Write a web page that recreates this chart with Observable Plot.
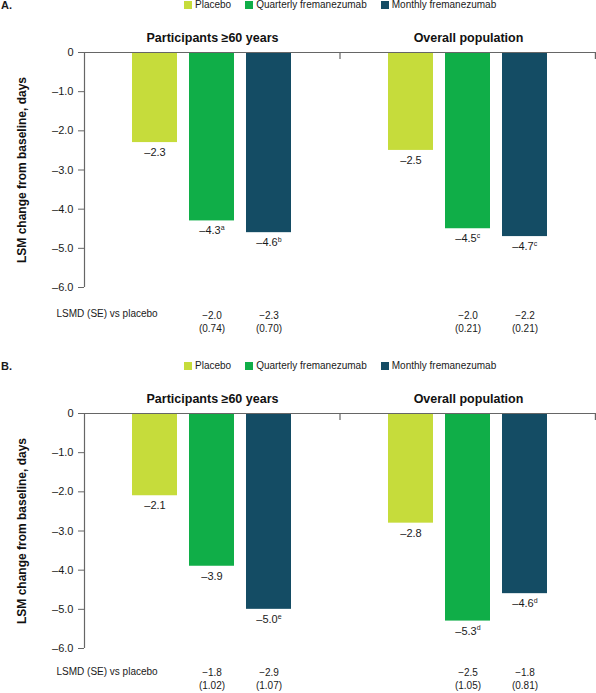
<!DOCTYPE html>
<html>
<head>
<meta charset="utf-8">
<script src="https://cdn.jsdelivr.net/npm/d3@7"></script>
<script src="https://cdn.jsdelivr.net/npm/@observablehq/plot@0.6"></script>
<style>
  html, body { margin: 0; padding: 0; background: #fff; }
  body { width: 596px; font-family: "Liberation Sans", Arial, Helvetica, sans-serif; color: #1a1a1a; }
  .hdr { position: relative; height: 10px; line-height: 10px; font-size: 10px; }
  .hdr .lab { position: absolute; left: 1px; top: 0; font-weight: bold; font-size: 11px; }
  .hdr .legend { position: absolute; left: 184px; top: 0; display: flex; white-space: nowrap; }
  .hdr .item { display: flex; align-items: center; margin-right: 14px; }
  .hdr .sw { display: inline-block; width: 8px; height: 8px; margin-right: 3px; }
  svg { display: block; }
</style>
</head>
<body>
<div id="panelA"></div>
<div id="panelB"></div>
<script>
const FONT = '"Liberation Sans", Arial, Helvetica, sans-serif';
const treatments = ["Placebo", "Quarterly fremanezumab", "Monthly fremanezumab"];
const colors = ["#c6dc3b", "#10ae48", "#144c64"];
const groups = ["Participants \u226560 years", "Overall population"];
const yTicks = [0, -1, -2, -3, -4, -5, -6];
const yLabel = "LSM change from baseline, days";
const lsmdLabel = "LSMD (SE) vs placebo";

// Panel A
const aValues60 = [-2.3, -4.3, -4.6];
const aSups60 = ["", "a", "b"];
const aValuesAll = [-2.5, -4.5, -4.7];
const aSupsAll = ["", "c", "c"];
const aLsmd60 = [-2.0, -2.3];
const aSe60 = [0.74, 0.70];
const aLsmdAll = [-2.0, -2.2];
const aSeAll = [0.21, 0.21];

// Panel B
const bValues60 = [-2.1, -3.9, -5.0];
const bSups60 = ["", "", "e"];
const bValuesAll = [-2.8, -5.3, -4.6];
const bSupsAll = ["", "d", "d"];
const bLsmd60 = [-1.8, -2.9];
const bSe60 = [1.02, 1.07];
const bLsmdAll = [-2.5, -1.8];
const bSeAll = [1.05, 0.81];

function barRows(v60, s60, vAll, sAll) {
  const rows = [];
  treatments.forEach((t, i) => rows.push({group: groups[0], treatment: t, value: v60[i], sup: s60[i]}));
  treatments.forEach((t, i) => rows.push({group: groups[1], treatment: t, value: vAll[i], sup: sAll[i]}));
  return rows;
}
function lsmdRows(l60, se60, lAll, seAll) {
  const rows = [];
  [1, 2].forEach((ti, i) => rows.push({group: groups[0], treatment: treatments[ti], lsmd: l60[i], se: se60[i]}));
  [1, 2].forEach((ti, i) => rows.push({group: groups[1], treatment: treatments[ti], lsmd: lAll[i], se: seAll[i]}));
  return rows;
}

const fmtVal = v => d3.format(".1f")(v).replace("\u2212", "\u2013");
const fmtTick = v => v === 0 ? "0" : d3.format(".1f")(v).replace("\u2212", "\u2013");
const fmtL = v => d3.format(".1f")(v);

function header(letter) {
  const hdr = document.createElement("div");
  hdr.className = "hdr";
  const lab = document.createElement("b");
  lab.className = "lab";
  lab.textContent = letter;
  hdr.appendChild(lab);
  const leg = document.createElement("div");
  leg.className = "legend";
  treatments.forEach((t, i) => {
    const it = document.createElement("span");
    it.className = "item";
    const sw = document.createElement("span");
    sw.className = "sw";
    sw.style.background = colors[i];
    it.appendChild(sw);
    it.appendChild(document.createTextNode(t));
    leg.appendChild(it);
  });
  hdr.appendChild(leg);
  return hdr;
}

function panel(bars, lsmd, height, marginBottom, lsmdDy, lsmdLine) {
  const plot = Plot.plot({
    width: 596,
    height,
    marginLeft: 84,
    marginRight: 0,
    marginTop: 42,
    marginBottom,
    style: {fontFamily: FONT, color: "#1a1a1a", background: "#fff", overflow: "visible"},
    fx: {domain: groups, padding: 0, axis: null},
    x: {domain: treatments, paddingInner: 0.21, paddingOuter: 0.85, axis: null},
    y: {domain: [-6, 0], axis: null},
    color: {domain: treatments, range: colors},
    marks: [
      Plot.barY(bars, {fx: "group", x: "treatment", y: "value", fill: "treatment"}),
      Plot.ruleY([0], {stroke: "#666", strokeWidth: 1.2}),
      Plot.axisY({ticks: yTicks, tickSize: 6, tickPadding: 5, tickFormat: fmtTick, fontSize: 11, label: null, stroke: "#666"}),
      Plot.text(bars, {filter: d => !d.sup, fx: "group", x: "treatment", y: "value", text: d => fmtVal(d.value), dy: 10, fontSize: 11, fill: "#1a1a1a"}),
      Plot.text(bars, {filter: d => d.sup, fx: "group", x: "treatment", y: "value", text: d => fmtVal(d.value), dx: -2, dy: 10, fontSize: 11, fill: "#1a1a1a"}),
      Plot.text(bars, {filter: d => d.sup, fx: "group", x: "treatment", y: "value", text: "sup", dx: 8.8, dy: 7, textAnchor: "start", fontSize: 7, fill: "#1a1a1a"}),
      Plot.text(groups, {fx: d => d, text: d => d, frameAnchor: "top", lineAnchor: "middle", dy: -15, fontWeight: "bold", fontSize: 12.5, fill: "#111"}),
      Plot.text([yLabel], {fx: () => groups[0], text: d => d, frameAnchor: "left", textAnchor: "middle", lineAnchor: "middle", rotate: -90, dx: -62, fontWeight: "bold", fontSize: 12, fill: "#111"}),
      Plot.text([lsmdLabel], {fx: () => groups[0], text: d => d, frameAnchor: "bottom-left", textAnchor: "start", lineAnchor: "top", dx: -28, dy: lsmdDy, fontSize: 10, fill: "#1a1a1a"}),
      Plot.text(lsmd, {fx: "group", x: "treatment", text: d => `${fmtL(d.lsmd)}\n(${d.se.toFixed(2)})`, frameAnchor: "bottom", lineAnchor: "top", dy: lsmdDy, fontSize: 10, lineHeight: lsmdLine, fill: "#1a1a1a"})
    ]
  });
  // axis line and divider ticks, positioned through the plot's own scales
  const fx = plot.scale("fx");
  const y = plot.scale("y");
  const y0 = y.apply(0), y6 = y.apply(-6);
  const g = d3.select(plot).append("g").attr("stroke", "#666").attr("stroke-width", 1.2);
  const xAxis = fx.apply(groups[0]) + 0.5;
  g.append("line").attr("x1", xAxis).attr("x2", xAxis).attr("y1", y0).attr("y2", y6);
  const xDiv = fx.apply(groups[1]);
  g.append("line").attr("x1", xDiv).attr("x2", xDiv).attr("y1", y0).attr("y2", y0 + 7);
  const xEnd = fx.apply(groups[1]) + fx.bandwidth - 0.6;
  g.append("line").attr("x1", xEnd).attr("x2", xEnd).attr("y1", y0).attr("y2", y0 + 7);
  return plot;
}

const A = document.getElementById("panelA");
A.appendChild(header("A."));
A.appendChild(panel(barRows(aValues60, aSups60, aValuesAll, aSupsAll), lsmdRows(aLsmd60, aSe60, aLsmdAll, aSeAll), 351, 74, 22, 1.3));
const B = document.getElementById("panelB");
B.appendChild(header("B."));
B.appendChild(panel(barRows(bValues60, bSups60, bValuesAll, bSupsAll), lsmdRows(bLsmd60, bSe60, bLsmdAll, bSeAll), 322, 45, 19, 1.25));
</script>
</body>
</html>
